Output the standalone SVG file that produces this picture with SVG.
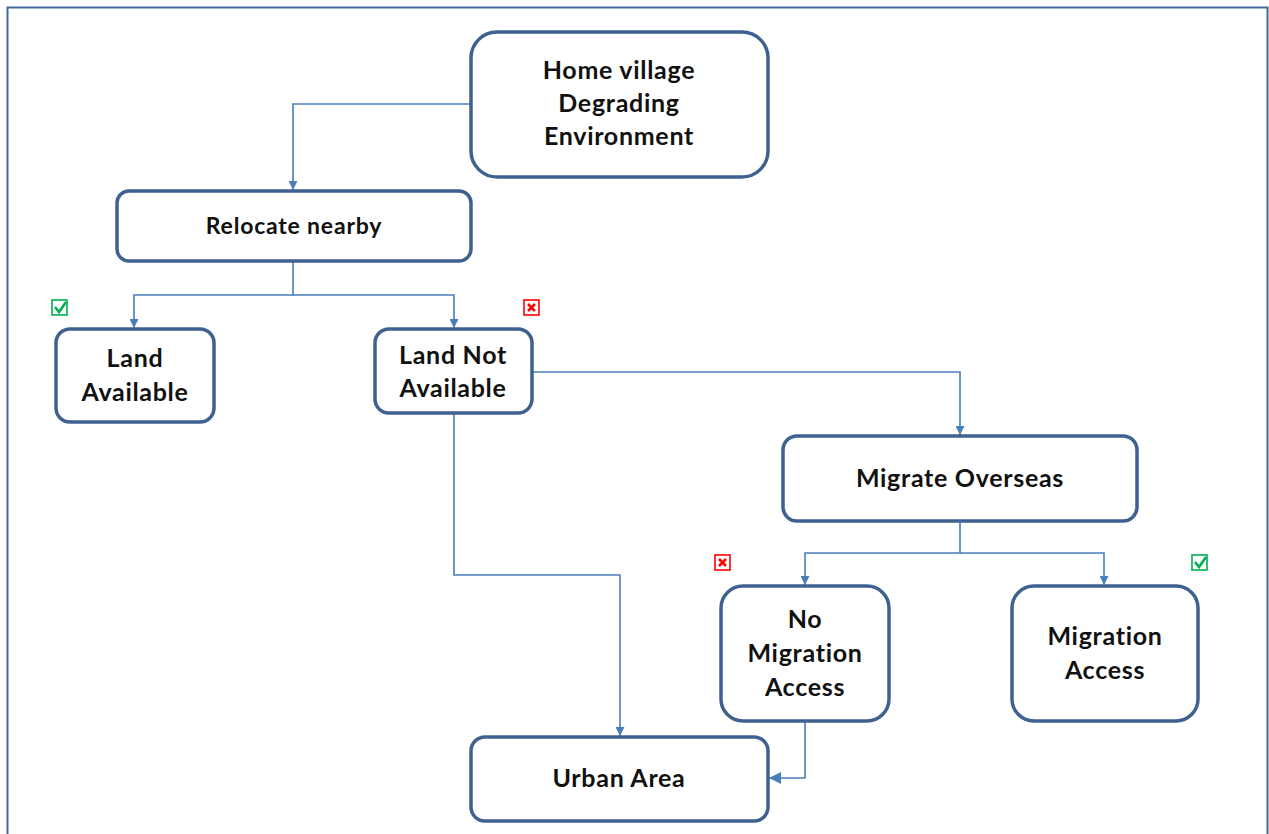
<svg xmlns="http://www.w3.org/2000/svg" width="1269" height="834" viewBox="0 0 1269 834">
<style>
.node rect{fill:#fff;stroke:#3E6190;stroke-width:3.5}
.node text{font-family:Lato,"Open Sans","Liberation Sans",sans-serif;font-weight:bold;font-size:25px;letter-spacing:0.7px;fill:#111;text-anchor:middle}
.conn path{fill:none;stroke:#4A7EBB;stroke-width:1.6}
.ok rect{fill:none;stroke:#00B050;stroke-width:1.6}
.ok path{fill:none;stroke:#00B050;stroke-width:2.6}
.no rect{fill:none;stroke:#FF0000;stroke-width:1.6}
.no path{fill:none;stroke:#FF0000;stroke-width:2.6}
</style>
<defs>
<marker id="ah" viewBox="0 0 10 10" refX="10" refY="5" markerWidth="9" markerHeight="9" markerUnits="userSpaceOnUse" orient="auto">
<path d="M0,0 L10,5 L0,10 z" fill="#4A7EBB"/>
</marker>
<marker id="ah2" viewBox="0 0 10 10" refX="10" refY="5" markerWidth="12" markerHeight="12" markerUnits="userSpaceOnUse" orient="auto">
<path d="M0,0 L10,5 L0,10 z" fill="#4A7EBB"/>
</marker>
</defs>
<rect width="1269" height="834" fill="#fff"/>
<path d="M7.5,834 V7.5 H1267.5 V834" fill="none" stroke="#4169A0" stroke-width="2"/>
<g class="conn">
<path d="M471,104 H293 V190" marker-end="url(#ah)"/>
<path d="M293,262 V295 H134 V328" marker-end="url(#ah)"/>
<path d="M293,295 H454 V328" marker-end="url(#ah)"/>
<path d="M533,372 H960 V435" marker-end="url(#ah)"/>
<path d="M454,414 V575 H620 V736" marker-end="url(#ah)"/>
<path d="M960,522 V553 H805 V585" marker-end="url(#ah)"/>
<path d="M960,553 H1104 V585" marker-end="url(#ah)"/>
<path d="M805,722 V778 H769" marker-end="url(#ah2)"/>
</g>
<g id="home" class="node"><rect x="471" y="32" width="297" height="145" rx="26"/>
<text x="619" y="79">Home village</text><text x="619" y="112">Degrading</text><text x="619" y="145">Environment</text></g>
<g id="relocate" class="node"><rect x="117" y="191" width="354" height="70" rx="12"/>
<text x="294" y="234" style="font-size:23px;letter-spacing:0.8px">Relocate nearby</text></g>
<g id="land" class="node"><rect x="56" y="329" width="158" height="93" rx="14"/>
<text x="135" y="367">Land</text><text x="135" y="401">Available</text></g>
<g id="noland" class="node"><rect x="375" y="329" width="157" height="84" rx="14"/>
<text x="453" y="364">Land Not</text><text x="453" y="397">Available</text></g>
<g id="overseas" class="node"><rect x="783" y="436" width="354" height="85" rx="14"/>
<text x="960" y="487">Migrate Overseas</text></g>
<g id="nomig" class="node"><rect x="721" y="586" width="168" height="135" rx="22"/>
<text x="805" y="628">No</text><text x="805" y="662">Migration</text><text x="805" y="696">Access</text></g>
<g id="mig" class="node"><rect x="1012" y="586" width="186" height="135" rx="22"/>
<text x="1105" y="645">Migration</text><text x="1105" y="679">Access</text></g>
<g id="urban" class="node"><rect x="471" y="737" width="297" height="84" rx="14"/>
<text x="619" y="787">Urban Area</text></g>
<g id="icon1" class="ok"><rect x="52" y="300" width="15" height="15"/><path d="M55,307 L59,312 L66,302"/></g>
<g id="icon2" class="no"><rect x="524" y="300" width="15" height="15"/><path d="M528,304 L535,311 M535,304 L528,311"/></g>
<g id="icon3" class="no"><rect x="715" y="555" width="15" height="15"/><path d="M719,559 L726,566 M726,559 L719,566"/></g>
<g id="icon4" class="ok"><rect x="1192" y="555" width="15" height="15"/><path d="M1195,562 L1199,567 L1206,557"/></g>
</svg>
